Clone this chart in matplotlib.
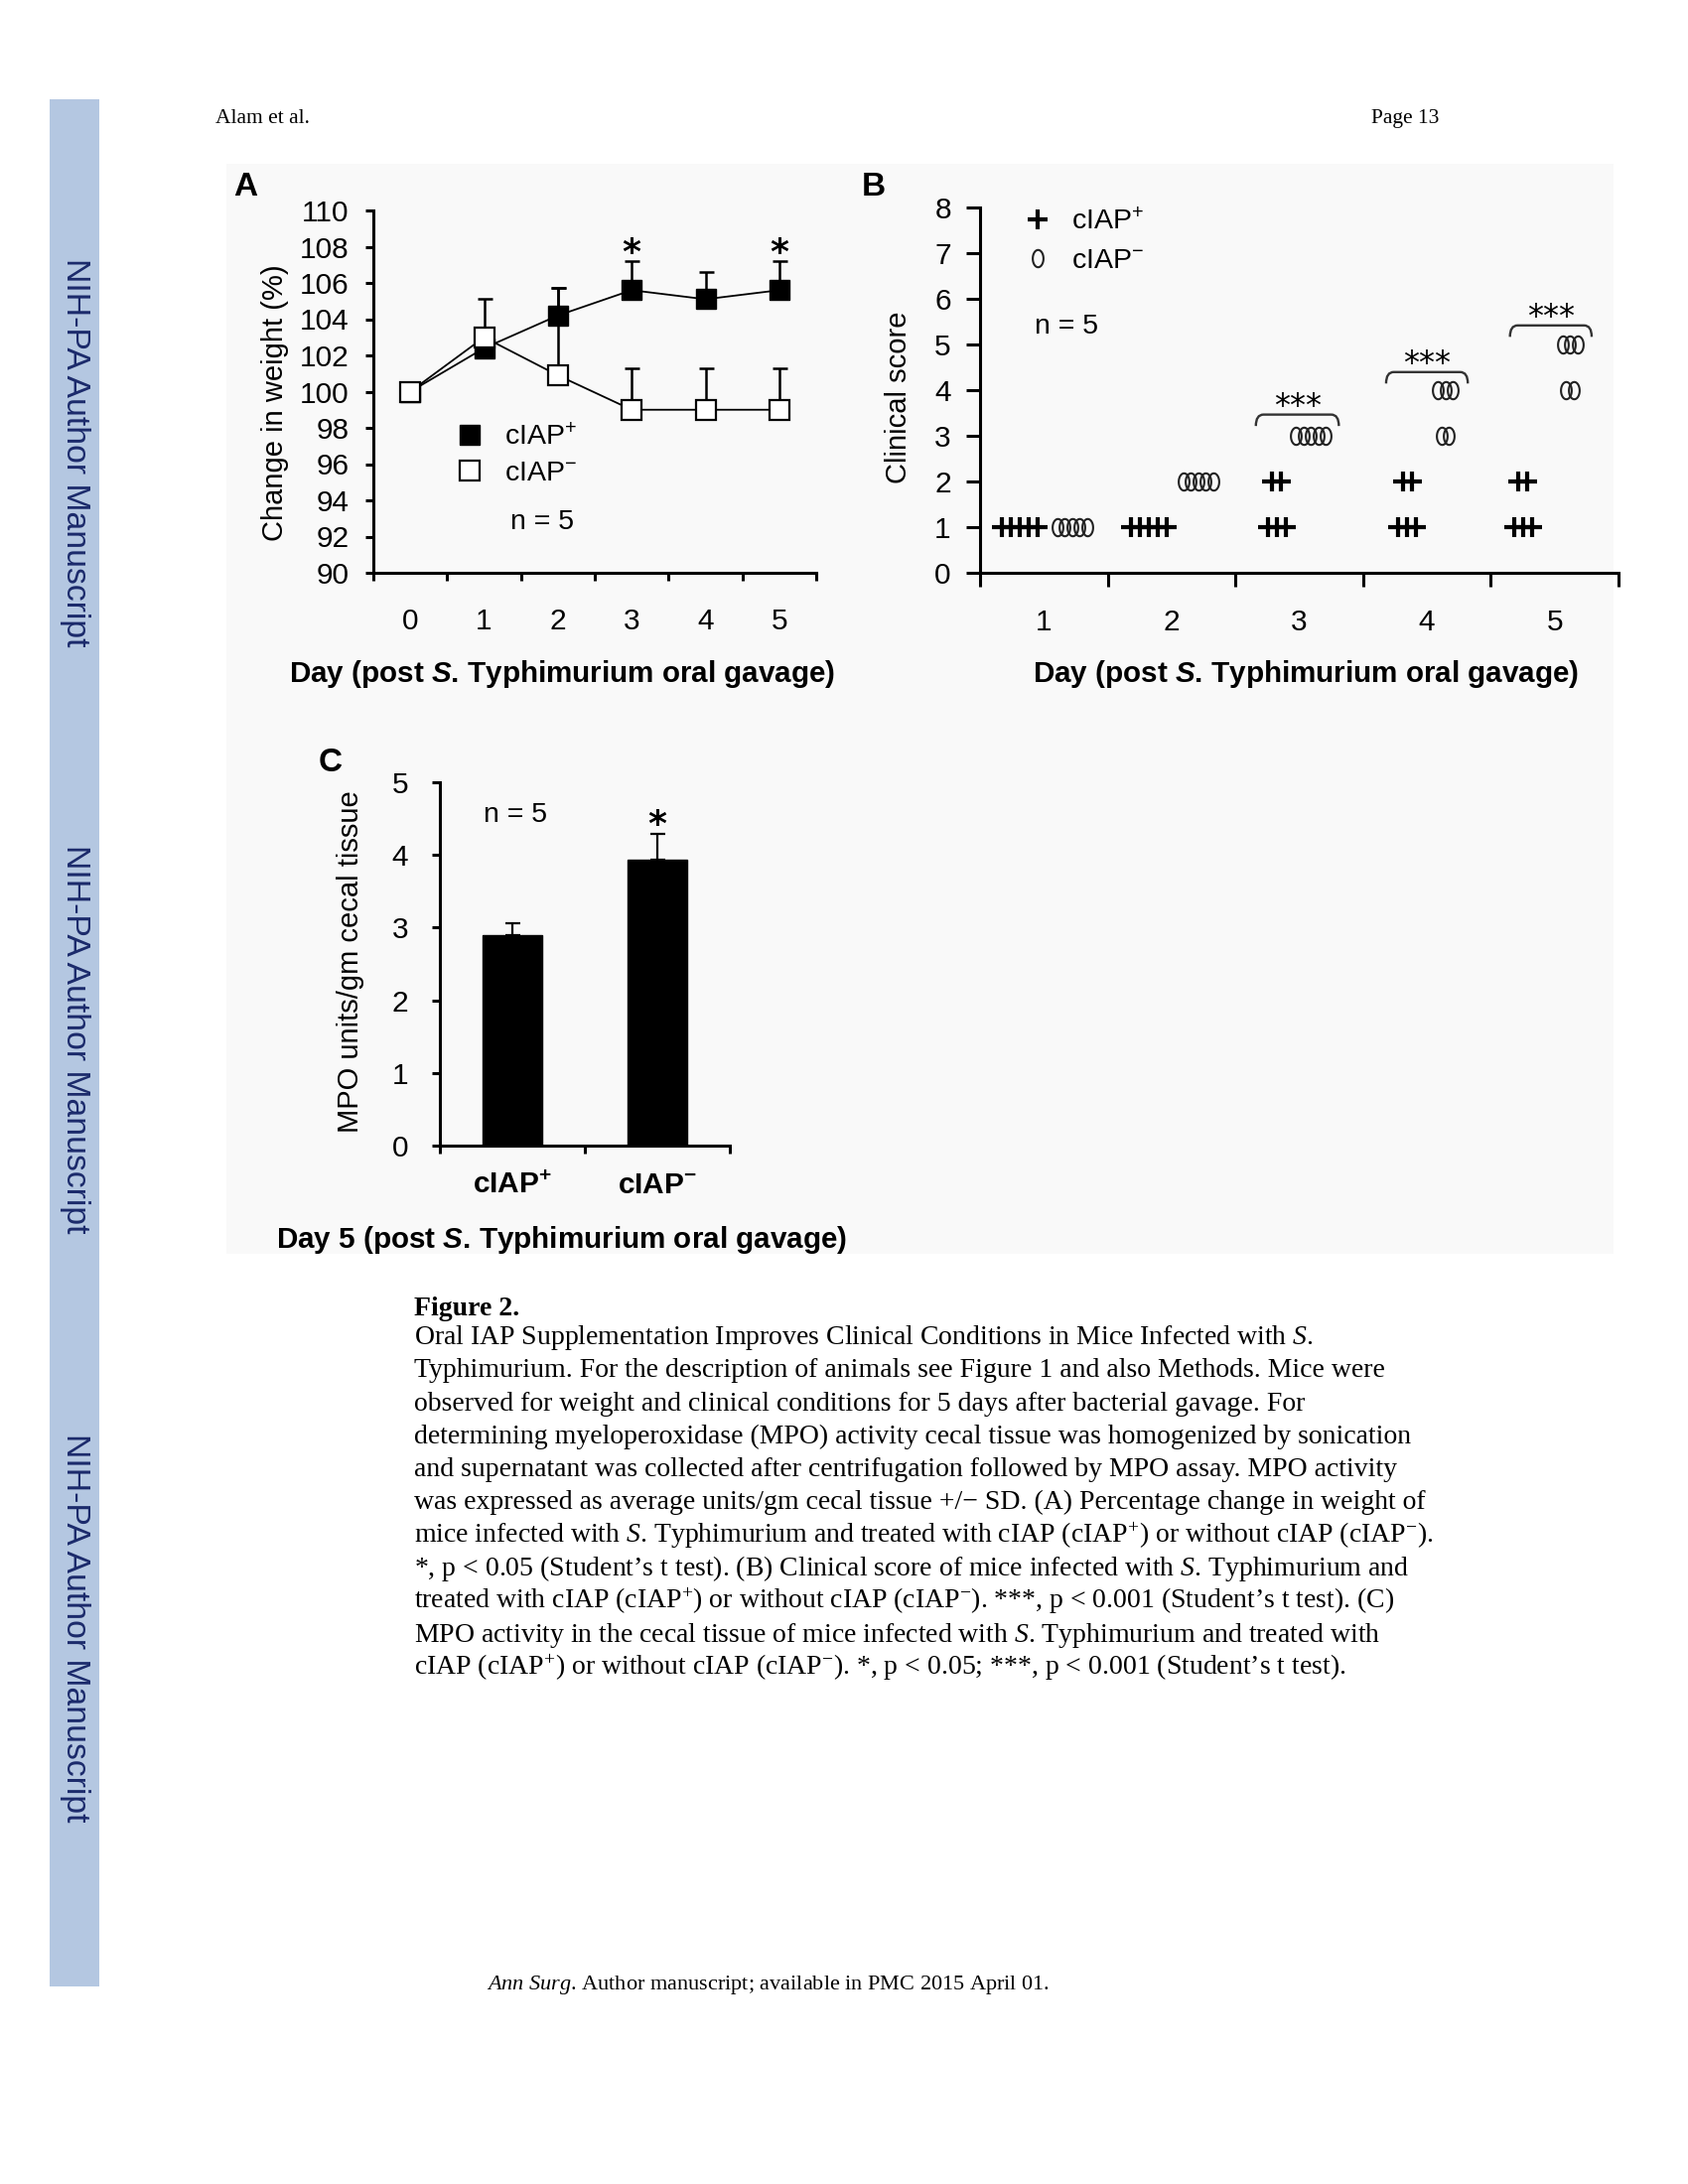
import numpy as np
import matplotlib
matplotlib.use("Agg")
import matplotlib.pyplot as plt
from matplotlib.path import Path
from matplotlib.patches import PathPatch, Rectangle
from matplotlib.lines import Line2D

W, H = 1700, 2200
plt.rcParams['font.family'] = ['Liberation Sans', 'DejaVu Sans']
plt.rcParams['mathtext.fontset'] = 'custom'
plt.rcParams['mathtext.rm'] = 'Liberation Serif'
plt.rcParams['mathtext.it'] = 'Liberation Serif:italic'
plt.rcParams['mathtext.bf'] = 'Liberation Serif:bold'
plt.rcParams['mathtext.sf'] = 'Liberation Sans:bold:italic'
plt.rcParams['mathtext.default'] = 'regular'

# ---------------- data ----------------
days_a = [0, 1, 2, 3, 4, 5]
weight_plus = [100.0, 102.4, 104.2, 105.6, 105.1, 105.6]
weight_plus_sd = [0.0, 0.4, 1.5, 1.6, 1.5, 1.6]
weight_minus = [100.0, 103.0, 100.9, 99.0, 99.0, 99.0]
weight_minus_sd = [0.0, 2.1, 4.8, 2.3, 2.3, 2.3]
sig_days_a = [3, 5]

days_b = [1, 2, 3, 4, 5]
score_plus = [[1, 1, 1, 1, 1], [1, 1, 1, 1, 1], [1, 1, 1, 2, 2], [1, 1, 1, 2, 2], [1, 1, 1, 2, 2]]
score_minus = [[1, 1, 1, 1, 1], [2, 2, 2, 2, 2], [3, 3, 3, 3, 3], [3, 3, 4, 4, 4], [4, 4, 5, 5, 5]]
sig_days_b = [3, 4, 5]

groups_c = ['cIAP$^{+}$', 'cIAP$^{-}$']
mpo_mean = [2.9, 3.94]
mpo_sd = [0.16, 0.35]

legend_labels = ['cIAP$^{+}$', 'cIAP$^{-}$']

# ---------------- layout helpers ----------------
fig = plt.figure(figsize=(W / 100, H / 100), dpi=100)
fig.patch.set_facecolor('white')


def fy(y):
    return 1 - y / H


def rect(x0, y0, x1, y1):
    return [x0 / W, 1 - y1 / H, (x1 - x0) / W, (y1 - y0) / H]


def ftext(x, y, s, **kw):
    return fig.text(x / W, fy(y), s, **kw)


# page decorations
fig.patches.append(Rectangle((50 / W, fy(2001)), 50 / W, 1901 / H, transform=fig.transFigure,
                             facecolor='#b4c7e1', edgecolor='none', zorder=-5))
fig.patches.append(Rectangle((228 / W, fy(1263)), (1625 - 228) / W, (1263 - 165) / H,
                             transform=fig.transFigure, facecolor='#f9f9f9', edgecolor='none', zorder=-5))
for cy in [456, 1047, 1640]:
    ftext(75, cy, 'NIH-PA Author Manuscript', rotation=-90, ha='center', va='center',
          fontsize=24.3, color='#1b2a6b')

ftext(217, 124, 'Alam et al.', family='Liberation Serif', fontsize=15.5, va='baseline')
ftext(1449, 124, 'Page 13', family='Liberation Serif', fontsize=15.5, va='baseline', ha='right')
ftext(490, 2004, r'$\mathit{Ann\ Surg}$. Author manuscript; available in PMC 2015 April 01.',
      family='Liberation Serif', fontsize=16, va='baseline')

SP_LW = 2.2
TICK_FS = 21.5


def style_axes(ax, tick_len, ytick_pad, xlab_pad):
    ax.set_facecolor('none')
    for s in ['top', 'right']:
        ax.spines[s].set_visible(False)
    for s in ['left', 'bottom']:
        ax.spines[s].set_linewidth(SP_LW)
    ax.tick_params(axis='both', which='major', length=tick_len, width=SP_LW, labelsize=TICK_FS)
    ax.tick_params(axis='y', pad=ytick_pad)
    ax.tick_params(axis='x', which='major', labelbottom=False)
    ax.tick_params(axis='x', which='minor', length=0, pad=xlab_pad, labelsize=TICK_FS)


# ---------------- Panel A ----------------
axA = fig.add_axes(rect(376, 212, 822, 577))
axA.set_xlim(-0.5, 5.5)
axA.set_ylim(90, 110)
axA.set_xticks(np.arange(-0.5, 6, 1))
axA.set_xticks(days_a, minor=True)
axA.set_xticklabels([str(d) for d in days_a], minor=True)
axA.set_yticks(np.arange(90, 111, 2))
style_axes(axA, 5.8, 12, 25)

zero = [0] * len(days_a)
axA.errorbar(days_a, weight_plus, yerr=[zero, weight_plus_sd], fmt='none', ecolor='black',
             elinewidth=1.8, capsize=5.4, capthick=1.8, zorder=2)
axA.errorbar(days_a, weight_minus, yerr=[zero, weight_minus_sd], fmt='none', ecolor='black',
             elinewidth=1.8, capsize=5.4, capthick=1.8, zorder=2)
axA.plot(days_a, weight_plus, color='black', lw=1.3, marker='s', ms=15, mfc='black', mec='black',
         zorder=3, clip_on=False)
axA.plot(days_a, weight_minus, color='black', lw=1.3, marker='s', ms=15, mfc='white', mec='black',
         mew=1.6, zorder=4, clip_on=False)
for d in sig_days_a:
    axA.text(d, 107.1, '*', ha='center', va='baseline', fontsize=26, family='DejaVu Sans',
             fontweight='bold')
axA.text(1.79, 92.41, 'n = 5', ha='center', va='baseline', fontsize=20.5)
hA = [Line2D([], [], marker='s', ls='none', ms=15, mfc='black', mec='black'),
      Line2D([], [], marker='s', ls='none', ms=15, mfc='white', mec='black', mew=1.6)]
axA.legend(hA, legend_labels, loc='upper left', bbox_to_anchor=(459 / W, fy(427)),
           bbox_transform=fig.transFigure, frameon=False, borderpad=0, borderaxespad=0,
           handlelength=1.0, handletextpad=0.73, labelspacing=0.33, fontsize=20.5)

ftext(235, 197, 'A', fontsize=24, fontweight='bold', va='baseline')
ftext(277, 406, 'Change in weight (%)', rotation=90, ha='center', va='center', fontsize=21)
ftext(566, 687, r'Day (post $\mathsf{S}$. Typhimurium oral gavage)', ha='center', va='baseline',
      fontsize=21.3, fontweight='bold')

# ---------------- Panel B ----------------
axB = fig.add_axes(rect(987, 208.5, 1630, 577))
axB.set_xlim(0.5, 5.5)
axB.set_ylim(0, 8)
axB.set_xticks(np.arange(0.5, 6, 1))
axB.set_xticks(days_b, minor=True)
axB.set_xticklabels([str(d) for d in days_b], minor=True)
axB.set_yticks(range(0, 9))
style_axes(axB, 10, 11, 26)

theta = np.linspace(0, 2 * np.pi, 80)
ellipse = Path(np.column_stack([0.62 * np.cos(theta), np.sin(theta)]), closed=True)

plus_off = [-0.19, -0.18, -0.175, -0.155, -0.25]
minus_off = [0.22, 0.21, 0.09, 0.145, 0.12]
plus_step = 0.07
minus_step = 0.058


def spread(day, off, step, scores):
    xs, ys = [], []
    for v in sorted(set(scores)):
        k = scores.count(v)
        for j in range(k):
            xs.append(day + off + (j - (k - 1) / 2) * step)
            ys.append(v)
    return xs, ys


for i, d in enumerate(days_b):
    xs, ys = spread(d, plus_off[i], plus_step, score_plus[i])
    axB.plot(xs, ys, ls='none', marker='+', ms=14, mew=3.0, color='black', zorder=3)
    xs, ys = spread(d, minus_off[i], minus_step, score_minus[i])
    axB.plot(xs, ys, ls='none', marker=ellipse, ms=12.5, mew=1.5, mfc='none', mec='#222222', zorder=3)

br_left = [-0.34, -0.32, -0.35]
br_right = [0.31, 0.32, 0.29]
br_top = [3.46, 4.39, 5.41]
drop, rad = 0.25, 0.06
for d, l, r, t in zip(sig_days_b, br_left, br_right, br_top):
    x0, x1 = d + l, d + r
    verts = [(x0, t - drop), (x0, t), (x0 + rad, t), (x1 - rad, t), (x1, t), (x1, t - drop)]
    codes = [Path.MOVETO, Path.CURVE3, Path.CURVE3, Path.LINETO, Path.CURVE3, Path.CURVE3]
    axB.add_patch(PathPatch(Path(verts, codes), fill=False, lw=1.7, edgecolor='#333333'))
    axB.text(d + (l + r) / 2, t, '***', ha='center', va='baseline', fontsize=23, family='DejaVu Sans')

axB.text(0.93, 5.24, 'n = 5', ha='left', va='baseline', fontsize=20.5)
hB = [Line2D([], [], marker='+', ls='none', ms=14, mew=3.0, color='black'),
      Line2D([], [], marker=ellipse, ls='none', ms=12.5, mew=1.5, mfc='none', mec='#222222')]
axB.legend(hB, legend_labels, loc='upper left', bbox_to_anchor=(1031 / W, fy(210)),
           bbox_transform=fig.transFigure, frameon=False, borderpad=0, borderaxespad=0,
           handlelength=1.0, handletextpad=0.69, labelspacing=0.45, fontsize=20.5)

ftext(868, 197, 'B', fontsize=24, fontweight='bold', va='baseline')
ftext(905, 400, 'Clinical score', rotation=90, ha='center', va='center', fontsize=21)
ftext(1315, 687, r'Day (post $\mathsf{S}$. Typhimurium oral gavage)', ha='center', va='baseline',
      fontsize=21.3, fontweight='bold')

# ---------------- Panel C ----------------
axC = fig.add_axes(rect(443, 788, 735, 1154))
axC.set_xlim(-0.5, 1.5)
axC.set_ylim(0, 5)
axC.set_xticks([-0.5, 0.5, 1.5])
xc = [0, 1]
axC.set_xticks(xc, minor=True)
axC.set_xticklabels(groups_c, minor=True, fontweight='bold', fontsize=21)
axC.set_yticks(range(0, 6))
style_axes(axC, 5.8, 17, 18.5)
axC.tick_params(axis='x', which='minor', labelsize=21.5)
axC.bar(xc, mpo_mean, width=0.41, color='black', edgecolor='black', zorder=2)
axC.errorbar(xc, mpo_mean, yerr=[[0, 0], mpo_sd], fmt='none', ecolor='black', elinewidth=1.6,
             capsize=5.4, capthick=1.6, zorder=3)
axC.text(1, 4.27, '*', ha='center', va='baseline', fontsize=26, family='DejaVu Sans',
         fontweight='bold')
axC.text(0.02, 4.45, 'n = 5', ha='center', va='baseline', fontsize=20.5)

ftext(321, 777, 'C', fontsize=24, fontweight='bold', va='baseline')
ftext(353, 969, 'MPO units/gm cecal tissue', rotation=90, ha='center', va='center', fontsize=21)
ftext(566, 1257, r'Day 5 (post $\mathsf{S}$. Typhimurium oral gavage)', ha='center', va='baseline',
      fontsize=21.3, fontweight='bold')

# ---------------- caption ----------------
cap_lines = [
    r'Oral IAP Supplementation Improves Clinical Conditions in Mice Infected with $\mathit{S}$.',
    'Typhimurium. For the description of animals see Figure 1 and also Methods. Mice were',
    'observed for weight and clinical conditions for 5 days after bacterial gavage. For',
    'determining myeloperoxidase (MPO) activity cecal tissue was homogenized by sonication',
    'and supernatant was collected after centrifugation followed by MPO assay. MPO activity',
    'was expressed as average units/gm cecal tissue +/\u2212 SD. (A) Percentage change in weight of',
    r'mice infected with $\mathit{S}$. Typhimurium and treated with cIAP (cIAP$^{+}$) or without cIAP (cIAP$^{-}$).',
    r'*, p < 0.05 (Student’s t test). (B) Clinical score of mice infected with $\mathit{S}$. Typhimurium and',
    r'treated with cIAP (cIAP$^{+}$) or without cIAP (cIAP$^{-}$). ***, p < 0.001 (Student’s t test). (C)',
    r'MPO activity in the cecal tissue of mice infected with $\mathit{S}$. Typhimurium and treated with',
    r'cIAP (cIAP$^{+}$) or without cIAP (cIAP$^{-}$). *, p < 0.05; ***, p < 0.001 (Student’s t test).',
]
ftext(417, 1325, 'Figure 2.', family='Liberation Serif', fontweight='bold', fontsize=20, va='baseline')
for i, line in enumerate(cap_lines):
    ftext(417, 1354 + 33.3 * i, line, family='Liberation Serif', fontsize=20, va='baseline')

fig.savefig('out.png', dpi=100)
